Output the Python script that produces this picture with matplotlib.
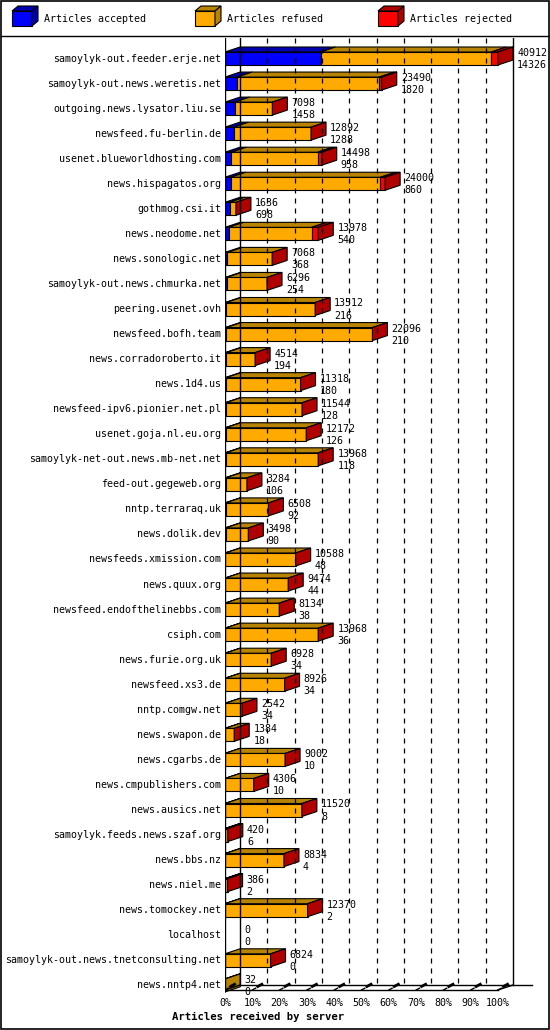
import matplotlib
matplotlib.use("Agg")
import matplotlib.pyplot as plt
from matplotlib.patches import Polygon, Rectangle

servers = ["samoylyk-out.feeder.erje.net","samoylyk-out.news.weretis.net","outgoing.news.lysator.liu.se",
"newsfeed.fu-berlin.de","usenet.blueworldhosting.com","news.hispagatos.org","gothmog.csi.it","news.neodome.net",
"news.sonologic.net","samoylyk-out.news.chmurka.net","peering.usenet.ovh","newsfeed.bofh.team",
"news.corradoroberto.it","news.1d4.us","newsfeed-ipv6.pionier.net.pl","usenet.goja.nl.eu.org",
"samoylyk-net-out.news.mb-net.net","feed-out.gegeweb.org","nntp.terraraq.uk","news.dolik.dev",
"newsfeeds.xmission.com","news.quux.org","newsfeed.endofthelinebbs.com","csiph.com","news.furie.org.uk",
"newsfeed.xs3.de","nntp.comgw.net","news.swapon.de","news.cgarbs.de","news.cmpublishers.com",
"news.ausics.net","samoylyk.feeds.news.szaf.org","news.bbs.nz","news.niel.me","news.tomockey.net",
"localhost","samoylyk-out.news.tnetconsulting.net","news.nntp4.net"]
offered = [40912,23490,7098,12892,14498,24000,1636,13978,7068,6296,13512,22096,4514,11318,11544,12172,
13968,3284,6508,3498,10588,9474,8134,13968,6928,8926,2542,1384,9002,4306,11520,420,8834,386,12370,0,6824,32]
accepted = [14326,1820,1458,1288,958,860,698,540,368,254,216,210,194,180,128,126,118,106,92,90,48,44,38,
36,34,34,34,18,10,10,8,6,4,2,2,0,0,0]
rejected = [1000,350,0,0,600,700,0,1000,0,0,0,0,0,0,0,0,0,0,0,0,0,0,0,0,0,0,0,0,0,0,0,0,0,0,0,0,0,0]

W, H = 550, 1030
fig = plt.figure(figsize=(5.5, 10.3), dpi=100)
FONT = "DejaVu Sans Mono"
FS = 7.2

def px2row(y): return (y - 58.5) / 25.05
XPX = 2.73  # px per percent
ax_l, ax_r, ax_t, ax_b = 225, 540, 38, 995
ax = fig.add_axes([ax_l / W, 1 - ax_b / H, (ax_r - ax_l) / W, (ax_b - ax_t) / H])
ax.set_xlim(0, (ax_r - ax_l) / XPX)
ax.set_ylim(px2row(ax_b), px2row(ax_t))
ax.axis("off")

dx = 15 / XPX
dy = 5 / 25.05
h = 13 / 25.05
top = px2row(ax_t)
floor_f = px2row(990)
floor_b = px2row(985)

# walls and grid
ax.plot([0, 0], [top, floor_f], color="black", lw=1)
ax.plot([dx, dx], [top, floor_b], color="black", lw=1)
ax.plot([100 + dx, 100 + dx], [top, floor_b], color="black", lw=1)
for k in range(1, 10):
    ax.plot([10 * k + dx] * 2, [top, floor_b], color="black", lw=0.9, ls=(0, (4, 4)))
ax.plot([0, 100], [floor_f, floor_f], color="black", lw=1)
ax.plot([dx, 100 + dx + 7], [floor_b, floor_b], color="black", lw=1)
ax.plot([0, dx], [floor_f, floor_b], color="black", lw=1)
ax.plot([100, 100 + dx], [floor_f, floor_b], color="black", lw=1)
for k in range(0, 11):
    ax.plot([10 * k, 10 * k + 1.2], [floor_f, floor_f - 0.07], color="black", lw=1)
    ax.plot([10 * k + dx - 3.5, 10 * k + dx - 2], [floor_b + 0.06, floor_b - 0.03], color="black", lw=2)
    ax.text(10 * k, px2row(1003), f"{10*k}%", ha="center", va="center", fontsize=FS, family=FONT)

cols = ["#0000ff", "#ffaa00", "#ff0000"]
tops = ["#0000b0", "#b88400", "#b00000"]
mx = max(offered)
for i, name in enumerate(servers):
    y = i
    ax.text(-1.5, y, name, ha="right", va="center", fontsize=FS, family=FONT)
    tot = offered[i]
    segs = [accepted[i], tot - accepted[i] - rejected[i], rejected[i]]
    x = 0
    end = 100 * tot / mx
    if tot > 0:
        for j, s in enumerate(segs):
            w = 100 * s / mx
            if w <= 0:
                continue
            yt = y - h / 2
            ax.add_patch(Rectangle((x, yt), w, h, facecolor=cols[j], edgecolor="black", lw=0.8))
            ax.add_patch(Polygon([(x, yt), (x + w, yt), (x + w + dx, yt - dy), (x + dx, yt - dy)],
                                 facecolor=tops[j], edgecolor="black", lw=0.8))
            x += w
        side_c = "#b00000" if tot > 100 else tops[1]
        ax.add_patch(Polygon([(end, y - h / 2), (end, y + h / 2), (end + dx, y + h / 2 - dy),
                              (end + dx, y - h / 2 - dy)], facecolor=side_c, edgecolor="black", lw=0.8))
    lx = end + dx + 1.5
    ax.text(lx, y - 0.22, str(tot), ha="left", va="center", fontsize=FS, family=FONT)
    ax.text(lx, y + 0.26, str(accepted[i]), ha="left", va="center", fontsize=FS, family=FONT)

fig.text(ax_l / W + 0.06, 1 - 1017 / H, "Articles received by server", ha="center", va="center",
         fontsize=FS + 0.5, family=FONT, weight="bold")

# legend
lg = fig.add_axes([0, 0, 1, 1])
lg.set_xlim(0, W); lg.set_ylim(H, 0); lg.axis("off")
lg.add_patch(Rectangle((1, 1), W - 2, H - 2, fill=False, edgecolor="black", lw=1.2))
lg.plot([1, W - 1], [36, 36], color="black", lw=1)
labels = ["Articles accepted", "Articles refused", "Articles rejected"]
for k, (lab, c, t) in enumerate(zip(labels, cols, tops)):
    x0 = 12 + 183 * k
    lg.add_patch(Rectangle((x0, 11), 20, 15, facecolor=c, edgecolor="black", lw=0.8))
    lg.add_patch(Polygon([(x0, 11), (x0 + 20, 11), (x0 + 26, 6), (x0 + 6, 6)], facecolor=t, edgecolor="black", lw=0.8))
    lg.add_patch(Polygon([(x0 + 20, 11), (x0 + 20, 26), (x0 + 26, 21), (x0 + 26, 6)], facecolor=t, edgecolor="black", lw=0.8))
    lg.text(x0 + 32, 19, lab, ha="left", va="center", fontsize=FS, family=FONT)

fig.savefig("out.png", dpi=100, facecolor="white")
